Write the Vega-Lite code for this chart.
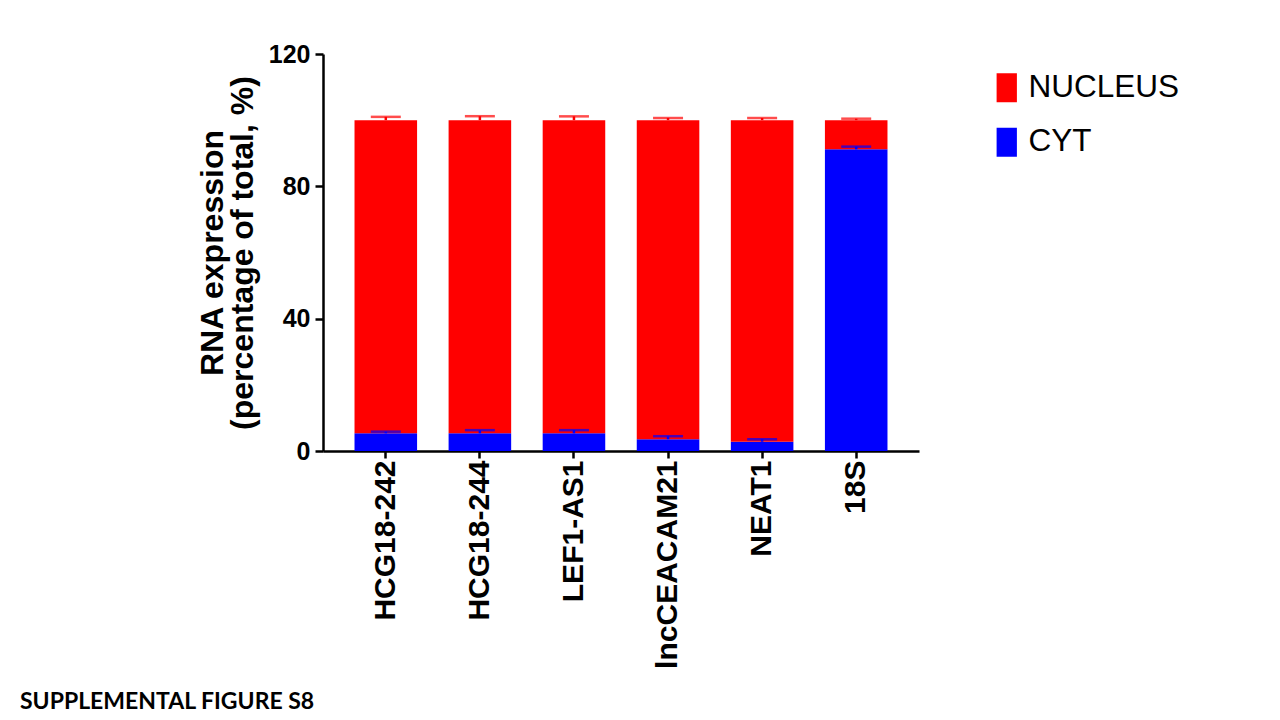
{
  "$schema": "https://vega.github.io/schema/vega-lite/v6.json",
  "width": 596,
  "height": 397,
  "autosize": {"type": "none"},
  "padding": {"left": 323, "top": 54, "right": 361, "bottom": 269},
  "background": "white",
  "title": {
    "text": "SUPPLEMENTAL FIGURE S8",
    "orient": "bottom",
    "anchor": "start",
    "frame": "group",
    "dx": -303,
    "offset": 23,
    "font": "Lato",
    "fontSize": 23,
    "fontWeight": "bold",
    "color": "black"
  },
  "data": {
    "values": [
      {"gene": "HCG18-242", "part": "CYT", "value": 5.35, "err": 0.5},
      {"gene": "HCG18-242", "part": "NUCLEUS", "value": 94.65, "err": 1.0},
      {"gene": "HCG18-244", "part": "CYT", "value": 5.35, "err": 0.95},
      {"gene": "HCG18-244", "part": "NUCLEUS", "value": 94.65, "err": 1.2},
      {"gene": "LEF1-AS1", "part": "CYT", "value": 5.35, "err": 0.95},
      {"gene": "LEF1-AS1", "part": "NUCLEUS", "value": 94.65, "err": 1.15},
      {"gene": "lncCEACAM21", "part": "CYT", "value": 3.57, "err": 0.9},
      {"gene": "lncCEACAM21", "part": "NUCLEUS", "value": 96.43, "err": 0.65},
      {"gene": "NEAT1", "part": "CYT", "value": 2.8, "err": 0.75},
      {"gene": "NEAT1", "part": "NUCLEUS", "value": 97.2, "err": 0.65},
      {"gene": "18S", "part": "CYT", "value": 91.2, "err": 0.8},
      {"gene": "18S", "part": "NUCLEUS", "value": 8.8, "err": 0.45}
    ]
  },
  "encoding": {
    "x": {
      "field": "gene",
      "type": "nominal",
      "sort": ["HCG18-242", "HCG18-244", "LEF1-AS1", "lncCEACAM21", "NEAT1", "18S"],
      "scale": {"paddingInner": 0.335, "paddingOuter": 0.335},
      "axis": {
        "title": null,
        "labelAngle": -90,
        "labelFont": "Liberation Sans",
        "labelFontSize": 30,
        "labelFontWeight": "bold",
        "labelColor": "black",
        "labelPadding": 2,
        "labelLimit": 0,
        "tickSize": 7,
        "tickWidth": 2.5,
        "tickColor": "black",
        "domainWidth": 2.5,
        "domainColor": "black"
      }
    }
  },
  "layer": [
    {
      "mark": {"type": "bar"},
      "encoding": {
        "y": {
          "field": "value",
          "type": "quantitative",
          "stack": "zero",
          "scale": {"domain": [0, 120], "nice": false},
          "axis": {
            "title": ["RNA expression", "(percentage of total, %)"],
            "titleFont": "Liberation Sans",
            "titleFontSize": 32,
            "titleFontWeight": "bold",
            "titleColor": "black",
            "titleLineHeight": 30,
            "titlePadding": 9,
            "values": [0, 40, 80, 120],
            "grid": false,
            "labelFont": "Liberation Sans",
            "labelFontSize": 25,
            "labelFontWeight": "bold",
            "labelColor": "black",
            "labelPadding": 5,
            "tickSize": 8,
            "tickWidth": 2.5,
            "tickColor": "black",
            "domainWidth": 2.5,
            "domainColor": "black"
          }
        },
        "order": {"field": "part", "sort": "ascending"},
        "color": {
          "field": "part",
          "type": "nominal",
          "scale": {"domain": ["NUCLEUS", "CYT"], "range": ["#ff0000", "#0000ff"]},
          "legend": {
            "title": null,
            "orient": "none",
            "legendX": 668,
            "legendY": 18,
            "padding": 0,
            "symbolType": "M-0.7,-1H0.7V1H-0.7Z",
            "symbolSize": 841,
            "symbolStrokeWidth": 0,
            "labelFont": "Liberation Sans",
            "labelFontSize": 31.5,
            "labelColor": "black",
            "labelOffset": 6,
            "rowPadding": 21.5
          }
        }
      }
    },
    {
      "transform": [
        {"stack": "value", "groupby": ["gene"], "sort": [{"field": "part", "order": "ascending"}], "as": ["lo", "hi"]},
        {"calculate": "datum.hi + datum.err", "as": "top"}
      ],
      "mark": {"type": "rule", "strokeWidth": 2.5},
      "encoding": {
        "y": {"field": "hi", "type": "quantitative"},
        "y2": {"field": "top"},
        "color": {"condition": {"test": "datum.part == 'CYT'", "value": "#0000ff"}, "value": "#ff0000"}
      }
    },
    {
      "transform": [
        {"stack": "value", "groupby": ["gene"], "sort": [{"field": "part", "order": "ascending"}], "as": ["lo", "hi"]},
        {"calculate": "datum.hi + datum.err", "as": "top"}
      ],
      "mark": {"type": "tick", "size": 30, "thickness": 2.5, "orient": "horizontal"},
      "encoding": {
        "y": {"field": "top", "type": "quantitative"},
        "color": {"condition": {"test": "datum.part == 'CYT'", "value": "#0000ff"}, "value": "#ff0000"}
      }
    }
  ],
  "config": {
    "view": {"stroke": null}
  }
}
